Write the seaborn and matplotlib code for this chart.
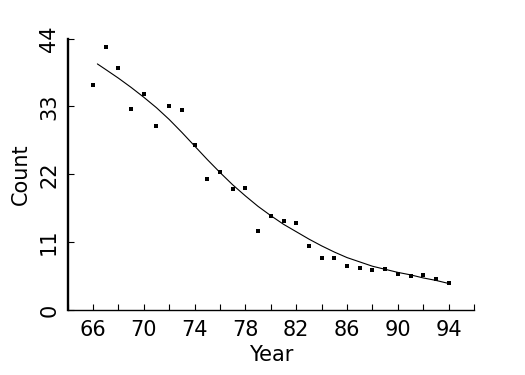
import matplotlib
matplotlib.use("Agg")
import matplotlib.pyplot as plt
from matplotlib.ticker import MultipleLocator
import seaborn as sns
import pandas as pd

# observed counts per year
years = [66, 67, 68, 69, 70, 71, 72, 73, 74, 75, 76, 77, 78, 79, 80,
         81, 82, 83, 84, 85, 86, 87, 88, 89, 90, 91, 92, 93, 94]
counts = [36.5, 42.7, 39.2, 32.6, 35.0, 29.8, 33.0, 32.5, 26.7, 21.3,
          22.3, 19.6, 19.8, 12.8, 15.3, 14.5, 14.1, 10.3, 8.4, 8.4,
          7.2, 6.8, 6.5, 6.7, 5.9, 5.5, 5.6, 5.0, 4.3]

# smoothed curve
smooth_x = [66.35, 67, 68, 69, 70, 71, 72, 73, 74, 75, 76, 77, 78, 79, 80,
            81, 82, 83, 84, 85, 86, 87, 88, 89, 90, 91, 92, 93, 94]
smooth_y = [39.9, 39.0, 37.6, 36.1, 34.5, 32.8, 30.9, 28.8, 26.6, 24.4,
            22.3, 20.3, 18.5, 16.8, 15.3, 13.9, 12.7, 11.5, 10.4, 9.4,
            8.5, 7.8, 7.1, 6.6, 6.1, 5.7, 5.2, 4.8, 4.3]

pts = pd.DataFrame({"Year": years, "Count": counts})
fit = pd.DataFrame({"Year": smooth_x, "Count": smooth_y})

sns.set_style("ticks")
plt.rcParams["font.family"] = ["DejaVu Sans"]
plt.rcParams["xtick.direction"] = "in"
plt.rcParams["ytick.direction"] = "in"
plt.rcParams["text.color"] = "black"
plt.rcParams["axes.labelcolor"] = "black"
plt.rcParams["xtick.color"] = "black"
plt.rcParams["ytick.color"] = "black"

fig = plt.figure(figsize=(5.25, 3.75), dpi=100)
ax = fig.add_axes([0.1286, 0.1733, 0.7744, 0.7237])

sns.lineplot(data=fit, x="Year", y="Count", ax=ax, color="black", linewidth=0.8)
sns.scatterplot(data=pts, x="Year", y="Count", ax=ax, color="black", marker="s",
                s=5, linewidth=0)

ax.set_xlim(64, 96)
ax.set_ylim(0, 44)
ax.set_xticks([66, 70, 74, 78, 82, 86, 90, 94])
ax.xaxis.set_minor_locator(MultipleLocator(2))
ax.set_yticks([0, 11, 22, 33, 44])

for s in ["top", "right"]:
    ax.spines[s].set_visible(False)
ax.spines["left"].set_linewidth(1.7)
ax.spines["bottom"].set_linewidth(1.0)
ax.spines["left"].set_color("black")
ax.spines["bottom"].set_color("black")

ax.tick_params(axis="x", which="both", direction="in", length=4, width=0.8,
               labelsize=15, pad=7)
ax.tick_params(axis="y", which="both", direction="in", length=4, width=0.8,
               labelsize=15, pad=6)
for lbl in ax.get_yticklabels():
    lbl.set_rotation(90)
    lbl.set_va("center")

ax.set_xlabel("Year", fontsize=15, labelpad=4)
ax.set_ylabel("Count", fontsize=15, labelpad=6)

fig.savefig("out.png", dpi=100)
plt.close(fig)
